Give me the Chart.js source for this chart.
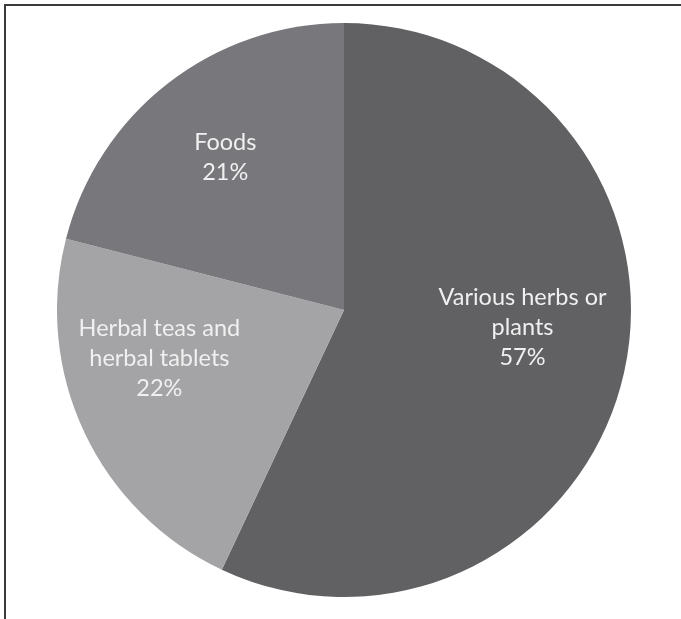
<!DOCTYPE html>
<html>
<head>
<meta charset="utf-8">
<script src="https://cdn.jsdelivr.net/npm/chart.js@4.4.1/dist/chart.umd.min.js"></script>
<style>
  html, body { margin: 0; padding: 0; background: #ffffff; }
  body { width: 681px; height: 619px; position: relative; overflow: hidden; }
  #frame { position: absolute; left: 4px; top: 4px; right: -10px; bottom: -10px;
           border-top: 2px solid #3a3a3a; border-left: 2px solid #3a3a3a; }
  #wrap { position: absolute; left: 57px; top: 23px; width: 574px; height: 574px; }
</style>
</head>
<body>
<div id="frame"></div>
<div id="wrap"><canvas id="c"></canvas></div>
<script>
const categories = [["Various herbs or", "plants"], ["Herbal teas and", "herbal tablets"], ["Foods"]];
const shares = [57, 22, 21];
const percentLabels = ["57%", "22%", "21%"];
const sliceColors = ["#616164", "#a4a4a7", "#78787c"];

// label placement relative to each slice (angle tweak in degrees, fraction of radius)
const labelLayout = [
  { dAngle: -7, frac: 0.625 },
  { dAngle: 10.5, frac: 0.665 },
  { dAngle: 0, frac: 0.675 }
];

const labelPlugin = {
  id: 'sliceLabels',
  afterDatasetsDraw(chart) {
    const ctx = chart.ctx;
    const meta = chart.getDatasetMeta(0);
    ctx.save();
    ctx.fillStyle = '#f0f0f0';
    ctx.font = '23.5px Lato, "Open Sans", sans-serif';
    ctx.textAlign = 'center';
    ctx.textBaseline = 'middle';
    meta.data.forEach((arc, i) => {
      const p = arc.getProps(['x', 'y', 'startAngle', 'endAngle', 'outerRadius'], true);
      const mid = (p.startAngle + p.endAngle) / 2 + labelLayout[i].dAngle * Math.PI / 180;
      const r = p.outerRadius * labelLayout[i].frac;
      const cx = p.x + Math.cos(mid) * r;
      const cy = p.y + Math.sin(mid) * r;
      const lines = categories[i].concat([percentLabels[i]]);
      const lh = 30;
      const top = cy - (lines.length - 1) * lh / 2;
      lines.forEach((t, k) => ctx.fillText(t, cx, top + k * lh));
    });
    ctx.restore();
  }
};

new Chart(document.getElementById('c'), {
  type: 'pie',
  data: {
    labels: categories.map(c => c.join(' ')),
    datasets: [{
      data: shares,
      backgroundColor: sliceColors,
      borderWidth: 0
    }]
  },
  options: {
    responsive: true,
    maintainAspectRatio: false,
    animation: false,
    layout: { padding: 0 },
    plugins: { legend: { display: false }, tooltip: { enabled: false } }
  },
  plugins: [labelPlugin]
});
</script>
</body>
</html>
